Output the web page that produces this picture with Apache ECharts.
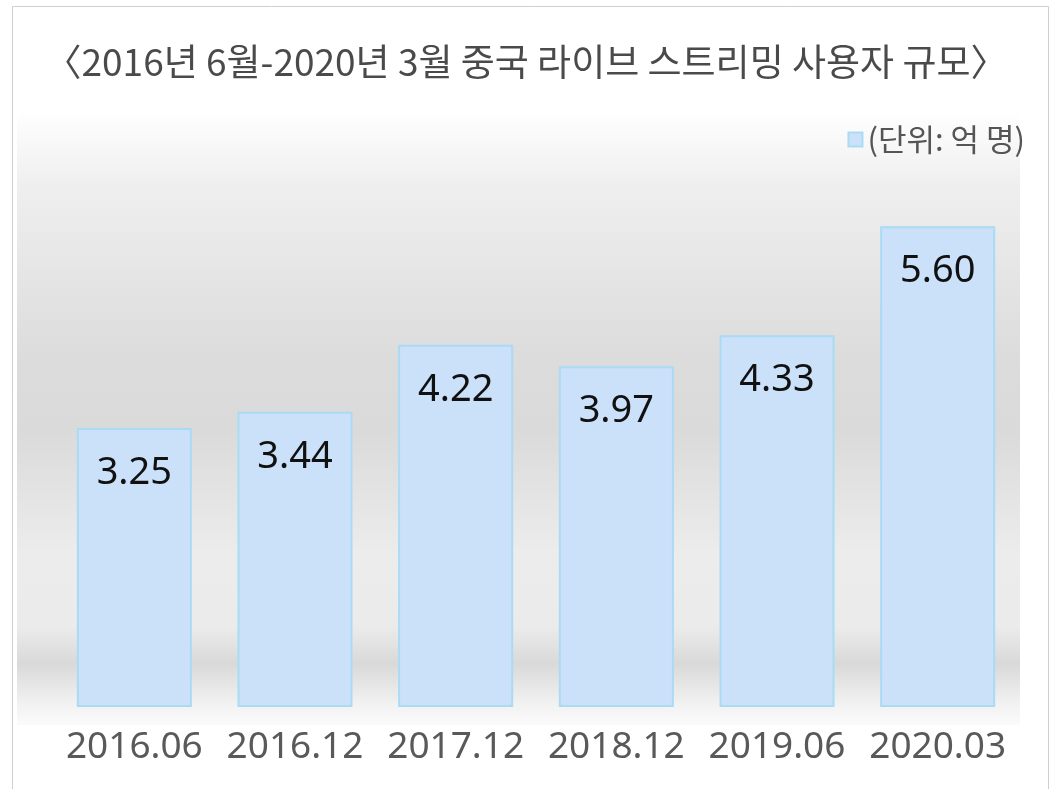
<!DOCTYPE html>
<html style="height: 100%">
<head>
  <meta charset="UTF-8">
  <title>중국 라이브 스트리밍 사용자 규모</title>
  <script src="https://cdn.jsdelivr.net/npm/echarts/dist/echarts.min.js"></script>
</head>
<body style="height: 100%; margin: 0; background: #fff">
<div id="main" style="width: 1052px; height: 789px"></div>

<script>
  // periods and users (100 million)
  const periods = ['2016.06', '2016.12', '2017.12', '2018.12', '2019.06', '2020.03'];
  const users = [3.25, 3.44, 4.22, 3.97, 4.33, 5.60];
  const titleText = '〈2016년 6월-2020년 3월 중국 라이브 스트리밍 사용자 규모〉';
  const unitText = '(단위: 억 명)';

  const chart = echarts.init(document.getElementById('main'));

  const option = {
    backgroundColor: '#fff',
    animation: false,
    title: {
      text: titleText,
      left: 'center',
      top: 38,
      textStyle: {
        fontFamily: 'Noto Sans CJK KR',
        fontSize: 37,
        fontWeight: 'normal',
        color: '#4a4a4a'
      }
    },
    legend: {
      right: 22,
      top: 119,
      itemWidth: 14,
      itemHeight: 14,
      itemGap: 6,
      icon: 'rect',
      textStyle: {
        fontFamily: 'Noto Sans CJK KR',
        fontSize: 31,
        color: '#555'
      },
      data: [unitText]
    },
    graphic: [
      {
        // outer frame
        type: 'rect',
        z: -10,
        silent: true,
        shape: { x: 12.5, y: 6.5, width: 1036, height: 800 },
        style: { fill: '#fff', stroke: '#cfcfcf', lineWidth: 1 }
      },
      {
        // shaded panel behind the bars
        type: 'rect',
        z: -9,
        silent: true,
        shape: { x: 17, y: 110, width: 1003, height: 615 },
        style: {
          fill: new echarts.graphic.LinearGradient(0, 0, 0, 1, [
            { offset: 0, color: '#ffffff' },
            { offset: 0.12, color: '#efefef' },
            { offset: 0.4, color: '#dcdcdc' },
            { offset: 0.52, color: '#dadada' },
            { offset: 0.72, color: '#ececec' },
            { offset: 0.84, color: '#ebebeb' },
            { offset: 0.9, color: '#d9d9d9' },
            { offset: 0.97, color: '#f3f3f3' },
            { offset: 1, color: '#fbfbfb' }
          ])
        }
      }
    ],
    grid: {
      left: 54,
      right: 34,
      top: 149,
      bottom: 82
    },
    xAxis: {
      type: 'category',
      data: periods,
      axisLine: { show: false },
      axisTick: { show: false },
      axisLabel: {
        interval: 0,
        margin: 22,
        fontFamily: 'Noto Sans',
        fontSize: 37,
        color: '#595959'
      }
    },
    yAxis: {
      type: 'value',
      min: 0,
      max: 6.5,
      show: false,
      splitLine: { show: false }
    },
    series: [
      {
        name: unitText,
        type: 'bar',
        data: users,
        barWidth: 115,
        itemStyle: {
          color: '#cbe1f9',
          borderColor: '#abdaf4',
          borderWidth: 2
        },
        label: {
          show: true,
          position: 'insideTop',
          distance: 26,
          fontFamily: 'Noto Sans',
          fontSize: 38,
          color: '#111',
          formatter: p => p.value.toFixed(2)
        }
      }
    ]
  };

  chart.setOption(option);
</script>
</body>
</html>
